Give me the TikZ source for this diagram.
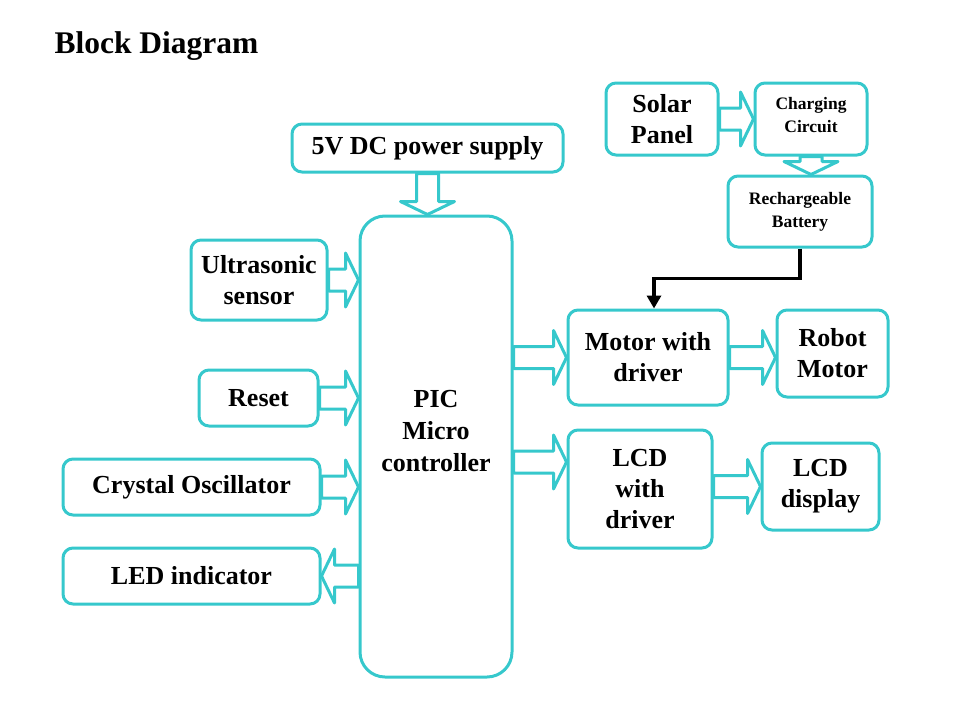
\documentclass[tikz,border=0pt]{standalone}
\usepackage{fontspec}
\setmainfont{Liberation Serif}
\usetikzlibrary{calc,arrows.meta}
\definecolor{aqua}{RGB}{54,200,204}
% hollow block arrow from #1 to #2
\newcommand{\blockarrow}[2]{%
  \coordinate (ba-s) at #1; \coordinate (ba-t) at #2;
  \coordinate (ba-h) at ($(ba-t)!13pt!(ba-s)$);
  \draw[aqua,line width=3pt,fill=white,line join=round]
    ($(ba-s)!11pt!90:(ba-t)$) -- ($(ba-h)!11pt!90:(ba-t)$) --
    ($(ba-h)!27pt!90:(ba-t)$) -- (ba-t) -- ($(ba-h)!27pt!-90:(ba-t)$) --
    ($(ba-h)!11pt!-90:(ba-t)$) -- ($(ba-s)!11pt!-90:(ba-t)$) -- cycle;}

\begin{document}
\begin{tikzpicture}[x=1pt,y=-1pt,
    box/.style={draw=aqua,line width=3pt,rounded corners=10pt,align=center,
      inner sep=0pt,font=\bfseries\fontsize{26}{31}\selectfont},
    smallbox/.style={box,font=\bfseries\fontsize{17.5}{23}\selectfont},
    txt/.style={align=center,font=\bfseries\fontsize{26}{32}\selectfont}]
  \useasboundingbox (0,0) rectangle (960,720);
  \node[anchor=west,font=\bfseries\fontsize{31.5}{36}\selectfont] (title) at (51,46) {Block Diagram};
  % left side
  \node[box,minimum width=271,minimum height=48] (power) at (427.5,148) {5V DC power supply};
  \node[box,rounded corners=25pt,minimum width=152,minimum height=461] (pic) at (436,446.5) {};
  \node[txt] (pictext) at (436,431) {PIC\\Micro\\controller};
  \node[box,minimum width=136,minimum height=80] (ultra) at (259,280) {Ultrasonic\\sensor};
  \node[box,minimum width=119,minimum height=56] (reset) at (258.5,398) {Reset};
  \node[box,minimum width=257,minimum height=56] (crystal) at (191.5,487) {Crystal Oscillator};
  \node[box,minimum width=257,minimum height=56] (led) at (191.5,576) {LED indicator};
  % right side
  \node[box,minimum width=112,minimum height=72] (solar) at (662,119) {Solar\\Panel};
  \node[smallbox,minimum width=112,minimum height=72] (charge) at (811,119) {};
  \node[smallbox,draw=none] (chargetext) at (811,115) {Charging\\Circuit};
  \node[smallbox,minimum width=144,minimum height=71] (batt) at (800,211.5) {Rechargeable\\Battery};
  \node[box,minimum width=160,minimum height=95] (motor) at (648,357.5) {Motor with\\driver};
  \node[box,minimum width=111,minimum height=87] (robot) at (832.5,353.5) {Robot\\Motor};
  \node[box,minimum width=144,minimum height=118] (lcddrv) at (640,489) {LCD\\with\\driver};
  \node[box,minimum width=117,minimum height=87] (lcddisp) at (820.5,486.5) {LCD\\display};
  \coordinate (lcdin) at ($(lcddrv.west)+(0,-27)$);
  % block arrows
  \blockarrow{(power.south)}{(power.south |- pic.north)}
  \blockarrow{(ultra.east)}{(ultra.east -| pic.west)}
  \blockarrow{(reset.east)}{(reset.east -| pic.west)}
  \blockarrow{(crystal.east)}{(crystal.east -| pic.west)}
  \blockarrow{(led.east -| pic.west)}{(led.east)}
  \blockarrow{(motor.west -| pic.east)}{(motor.west)}
  \blockarrow{(lcdin -| pic.east)}{(lcdin)}
  \blockarrow{(motor.east)}{(motor.east -| robot.west)}
  \blockarrow{(lcddisp.west -| lcddrv.east)}{(lcddisp.west)}
  \blockarrow{(solar.east)}{(charge.west)}
  \blockarrow{(charge.south)}{(charge.south |- batt.north)}
  % battery feed
  \draw[line width=3.5pt,-{Triangle[width=14pt,length=13pt]}]
    (batt.south) -- ++(0,30) -| ($(motor.north)+(6,0)$);
\end{tikzpicture}
\end{document}
